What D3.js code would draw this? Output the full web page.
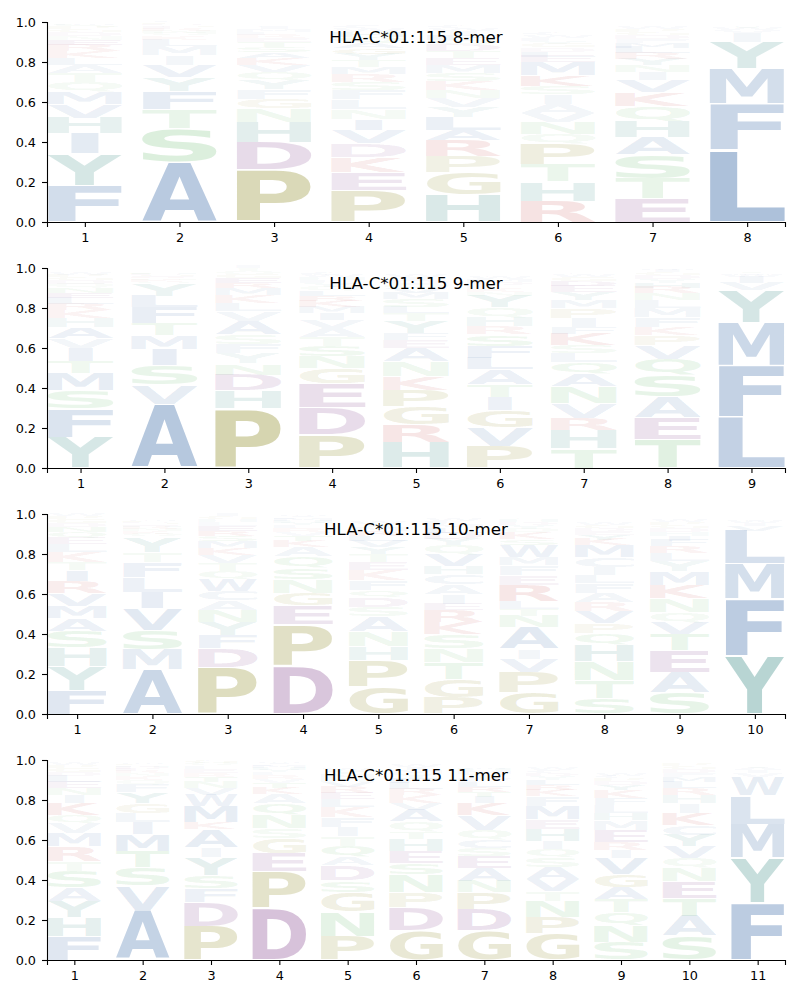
<!DOCTYPE html>
<html><head><meta charset="utf-8">
<script src="https://cdn.jsdelivr.net/npm/d3@7"></script>
<style>body{margin:0;background:#fff} svg{display:block} text{font-family:"DejaVu Sans",sans-serif}</style>
</head><body><svg id="c" width="800" height="1000"></svg>
<script>
// Each column: letters from bottom to top with their probability heights
const logo8 = [
  [["F",.184],["Y",.158],["I",.10],["H",.078],["V",.07],["M",.06],["Q",.05],["T",.045],["A",.04],["L",.035],["K",.035],["R",.03],["E",.025],["N",.02],["D",.018],["G",.015],["P",.012],["S",.01],["W",.008],["C",.006]],
  [["A",.30],["S",.17],["T",.095],["F",.09],["Y",.07],["V",.06],["I",.05],["M",.045],["L",.03],["K",.02],["Q",.015],["N",.012],["R",.01],["E",.01],["G",.008],["D",.007],["P",.006],["C",.005]],
  [["P",.26],["D",.14],["H",.10],["N",.066],["G",.05],["F",.048],["Y",.045],["Q",.04],["V",.035],["K",.035],["A",.03],["S",.025],["T",.025],["E",.02],["R",.018],["L",.015],["M",.012],["I",.01],["C",.008]],
  [["P",.16],["E",.09],["K",.075],["D",.068],["V",.068],["I",.055],["N",.05],["L",.05],["F",.045],["S",.04],["R",.04],["M",.035],["T",.035],["Y",.03],["G",.03],["A",.025],["Q",.03],["H",.025],["W",.02],["C",.015]],
  [["H",.138],["G",.11],["P",.08],["R",.078],["A",.055],["L",.065],["Y",.05],["V",.045],["N",.04],["K",.045],["S",.04],["M",.04],["E",.035],["T",.035],["D",.03],["Q",.025],["F",.025],["I",.02],["W",.015],["C",.01]],
  [["R",.105],["H",.096],["T",.088],["P",.10],["Q",.05],["N",.058],["V",.045],["A",.045],["I",.05],["S",.04],["K",.055],["M",.065],["E",.03],["L",.025],["D",.02],["G",.02],["Y",.015],["F",.015],["W",.012],["C",.01]],
  [["E",.118],["T",.10],["S",.12],["A",.086],["H",.08],["Q",.075],["K",.07],["V",.058],["I",.04],["N",.035],["Y",.03],["R",.03],["L",.03],["M",.025],["F",.02],["D",.02],["G",.015],["P",.015],["W",.01]],
  [["L",.36],["F",.229],["M",.177],["Y",.133],["I",.045],["V",.015],["W",.01],["T",.008],["A",.006]]
];
const logo9 = [
  [["Y",.153],["F",.145],["S",.09],["M",.088],["T",.058],["I",.066],["V",.05],["A",.055],["H",.045],["K",.04],["R",.03],["L",.03],["E",.025],["N",.025],["Q",.02],["D",.02],["G",.015],["P",.01],["W",.01]],
  [["A",.32],["V",.096],["S",.096],["I",.083],["M",.07],["T",.058],["F",.08],["L",.058],["Y",.06],["Q",.01],["K",.01],["N",.008],["R",.006],["E",.005],["G",.004],["D",.004],["H",.004],["P",.003]],
  [["P",.296],["H",.09],["D",.08],["N",.056],["Y",.05],["F",.046],["S",.05],["A",.065],["V",.05],["L",.04],["K",.04],["M",.035],["R",.025],["E",.025],["G",.02],["Q",.015],["T",.015],["I",.01]],
  [["P",.166],["D",.136],["E",.123],["G",.075],["N",.058],["S",.053],["T",.045],["A",.045],["V",.04],["I",.035],["M",.03],["K",.03],["R",.025],["L",.025],["Q",.02],["Y",.02],["F",.015],["H",.015],["W",.01],["C",.01]],
  [["H",.128],["R",.09],["G",.09],["P",.083],["K",.066],["N",.075],["A",.066],["E",.04],["F",.035],["Y",.06],["T",.04],["L",.03],["S",.04],["M",.03],["V",.025],["Q",.02],["D",.02],["I",.015],["W",.01]],
  [["P",.108],["V",.095],["G",.086],["I",.066],["T",.063],["A",.075],["L",.058],["F",.058],["S",.058],["R",.04],["H",.045],["Q",.05],["Y",.06],["N",.02],["K",.02],["E",.015],["D",.015],["M",.015],["W",.01],["C",.008]],
  [["T",.096],["H",.091],["R",.061],["V",.075],["N",.083],["A",.063],["Q",.058],["L",.046],["S",.04],["K",.058],["F",.033],["I",.045],["P",.05],["M",.04],["Y",.04],["E",.03],["D",.025],["G",.02],["W",.015],["C",.008]],
  [["T",.141],["E",.111],["A",.103],["S",.108],["Q",.083],["V",.066],["P",.05],["K",.04],["F",.05],["M",.045],["L",.04],["N",.035],["R",.03],["H",.025],["Y",.02],["D",.02],["G",.015],["I",.01],["W",.008]],
  [["L",.257],["F",.254],["M",.216],["Y",.161],["V",.038],["I",.03],["W",.01],["A",.008],["T",.006]]
];
const logo10 = [
  [["F",.12],["Y",.12],["H",.091],["S",.083],["A",.063],["M",.063],["V",.063],["R",.06],["I",.055],["T",.04],["K",.05],["L",.04],["E",.03],["Q",.03],["N",.025],["D",.02],["G",.02],["P",.015],["W",.01]],
  [["A",.224],["M",.10],["S",.096],["V",.108],["I",.083],["L",.075],["F",.075],["T",.05],["Y",.075],["Q",.015],["K",.012],["N",.01],["R",.01],["H",.008],["E",.008],["G",.006],["D",.006],["P",.005],["W",.005]],
  [["P",.232],["D",.095],["F",.066],["Y",.066],["N",.058],["A",.05],["C",.045],["W",.06],["Q",.04],["T",.04],["V",.04],["K",.035],["M",.035],["S",.03],["R",.025],["E",.025],["L",.02],["H",.015],["G",.015],["I",.01]],
  [["D",.24],["P",.207],["E",.096],["G",.063],["N",.066],["S",.058],["Q",.058],["A",.046],["K",.03],["T",.025],["V",.02],["R",.02],["L",.015],["Y",.012],["H",.01],["M",.01],["F",.008],["I",.006],["W",.005]],
  [["G",.136],["P",.133],["H",.07],["N",.075],["A",.075],["S",.046],["D",.05],["Q",.035],["F",.05],["K",.05],["E",.04],["T",.04],["Y",.035],["V",.03],["L",.025],["R",.025],["M",.02],["I",.015],["W",.01]],
  [["P",.083],["G",.091],["T",.083],["N",.07],["S",.07],["K",.06],["R",.06],["E",.03],["I",.05],["A",.05],["C",.05],["H",.04],["V",.058],["Q",.05],["Y",.03],["D",.03],["L",.025],["M",.02],["F",.015],["W",.01]],
  [["G",.108],["P",.10],["V",.066],["I",.05],["A",.108],["N",.058],["T",.035],["L",.04],["R",.08],["E",.05],["F",.05],["M",.04],["W",.06],["S",.03],["K",.03],["Q",.02],["Y",.02],["D",.015],["H",.015],["C",.008]],
  [["S",.08],["T",.088],["N",.095],["H",.083],["Q",.058],["P",.05],["V",.058],["R",.046],["A",.046],["F",.05],["L",.04],["I",.04],["C",.05],["M",.058],["K",.03],["Y",.025],["E",.02],["D",.015],["G",.015],["W",.01]],
  [["S",.108],["A",.10],["E",.108],["T",.083],["V",.058],["Q",.05],["N",.07],["K",.065],["M",.07],["Y",.05],["L",.04],["R",.035],["F",.03],["I",.025],["H",.02],["D",.02],["G",.015],["P",.015],["W",.01]],
  [["Y",.29],["F",.287],["M",.174],["L",.166],["V",.025],["I",.015],["W",.01],["A",.006]]
];
const logo11 = [
  [["F",.12],["H",.095],["Y",.08],["A",.066],["S",.083],["T",.05],["R",.075],["M",.066],["V",.05],["Q",.04],["K",.058],["I",.04],["N",.035],["E",.03],["L",.03],["D",.02],["G",.02],["P",.015],["W",.01]],
  [["A",.25],["V",.121],["S",.091],["T",.083],["M",.083],["I",.06],["L",.045],["G",.05],["Y",.055],["F",.04],["Q",.02],["K",.02],["N",.015],["R",.012],["E",.01],["D",.01],["H",.008],["P",.006],["W",.005]],
  [["P",.17],["D",.12],["F",.066],["S",.066],["Y",.09],["I",.05],["A",.09],["K",.035],["M",.08],["W",.058],["V",.035],["N",.03],["T",.025],["R",.02],["E",.02],["L",.015],["Q",.015],["G",.01]],
  [["D",.257],["P",.187],["E",.091],["G",.075],["S",.05],["N",.066],["Q",.058],["A",.046],["K",.03],["T",.025],["V",.02],["R",.02],["L",.015],["Y",.012],["H",.01],["M",.01],["F",.008],["I",.006],["W",.005]],
  [["P",.12],["N",.12],["G",.10],["S",.058],["D",.075],["A",.04],["Q",.058],["T",.05],["I",.045],["F",.05],["K",.05],["L",.04],["E",.03],["R",.03],["V",.025],["H",.02],["M",.02],["Y",.015],["W",.01]],
  [["G",.146],["D",.116],["P",.075],["N",.09],["S",.058],["E",.058],["H",.063],["T",.035],["Q",.05],["A",.06],["V",.035],["K",.04],["R",.03],["L",.03],["F",.025],["Y",.02],["M",.02],["I",.015],["W",.01]],
  [["G",.146],["D",.108],["P",.083],["N",.058],["A",.066],["E",.058],["S",.04],["C",.04],["Q",.05],["V",.075],["K",.058],["I",.03],["T",.03],["R",.025],["L",.025],["F",.02],["Y",.02],["M",.015],["H",.01],["W",.008]],
  [["G",.13],["P",.083],["N",.083],["T",.05],["V",.058],["A",.058],["S",.05],["Q",.04],["I",.04],["H",.06],["E",.05],["M",.066],["F",.05],["K",.03],["R",.025],["L",.025],["Y",.02],["D",.015],["C",.015],["W",.01]],
  [["S",.088],["N",.083],["Q",.066],["T",.066],["A",.058],["G",.066],["V",.083],["I",.04],["R",.04],["E",.058],["M",.05],["H",.035],["L",.04],["F",.035],["K",.04],["Y",.025],["D",.02],["P",.015],["C",.01],["W",.01]],
  [["S",.12],["A",.10],["T",.09],["E",.083],["N",.066],["Q",.05],["V",.058],["Y",.058],["C",.05],["K",.058],["I",.05],["H",.04],["R",.035],["L",.03],["M",.025],["F",.02],["D",.02],["G",.015],["P",.01]],
  [["F",.287],["Y",.224],["M",.167],["L",.144],["W",.091],["V",.02],["I",.015],["A",.01],["T",.006]]
];
const titles = ["HLA-C*01:115 8-mer","HLA-C*01:115 9-mer","HLA-C*01:115 10-mer","HLA-C*01:115 11-mer"];
const logos = [logo8, logo9, logo10, logo11];
const yTicks = [0, 0.2, 0.4, 0.6, 0.8, 1.0];

const groupColor = {
  blue: [70,115,172], teal: [60,140,134], olive: [143,140,40],
  purple: [131,69,141], red: [195,68,68], green: [100,184,105]
};
const letterGroup = {A:"blue",C:"blue",F:"blue",I:"blue",L:"blue",M:"blue",V:"blue",W:"blue",
  Y:"teal",H:"teal",P:"olive",G:"olive",D:"purple",E:"purple",K:"red",R:"red",
  S:"green",T:"green",N:"green",Q:"green"};

const svg = d3.select("#c");
const left = 47, right = 785, panelH = 200, tops = [22, 268, 514, 760];
const glyphW = 0.8, vpad = 0.04;

const ctx = document.createElement("canvas").getContext("2d");
ctx.font = 'bold 100px "DejaVu Sans"';
const inkCache = {};
function ink(c) {
  if (!inkCache[c]) {
    const m = ctx.measureText(c);
    inkCache[c] = {l: -m.actualBoundingBoxLeft, r: m.actualBoundingBoxRight,
                   t: -m.actualBoundingBoxAscent, b: m.actualBoundingBoxDescent};
  }
  return inkCache[c];
}
const refInk = ink("E");
const refW = refInk.r - refInk.l;

logos.forEach((logo, pi) => {
  const n = logo.length;
  const top = tops[pi];
  const x = d3.scaleLinear().domain([1 - glyphW / 2, n + glyphW / 2]).range([left, right]);
  const y = d3.scaleLinear().domain([0, 1]).range([top + panelH, top]);
  const g = svg.append("g");
  const marks = g.append("g");

  logo.forEach((col, ci) => {
    const pos = ci + 1;
    let cum = 0;
    col.forEach(([c, v]) => {
      const y0 = y(cum), y1 = y(cum + v);
      cum += v;
      const hpx = y0 - y1;
      const pad = hpx * vpad / 2;
      const sx0 = x(pos - glyphW / 2) + 0.5, sx1 = x(pos + glyphW / 2) - 0.5;
      const slotW = sx1 - sx0;
      const b = ink(c);
      const iw = b.r - b.l;
      // never stretch horizontally more than "E" would be
      const sx = Math.min(slotW / iw, slotW / refW);
      const gw = iw * sx;
      const gx0 = sx0 + (slotW - gw) / 2;
      const gy0 = y1 + pad, gy1 = y0 - pad;
      const sy = (gy1 - gy0) / (b.b - b.t);
      const rgb = groupColor[letterGroup[c]];
      const alpha = Math.min(1, 0.03 + 1.15 * v);
      marks.append("text")
        .attr("transform", `translate(${gx0},${gy0}) scale(${sx},${sy}) translate(${-b.l},${-b.t})`)
        .style("font-size", "100px").style("font-weight", "bold")
        .attr("fill", `rgb(${rgb[0]},${rgb[1]},${rgb[2]})`)
        .attr("fill-opacity", alpha)
        .text(c);
    });
  });

  const ax = g.append("g").attr("transform", `translate(0,${top + panelH})`)
    .call(d3.axisBottom(x).tickValues(d3.range(1, n + 1)).tickFormat(d3.format("d")).tickSizeOuter(0).tickSize(5).tickPadding(5.5));
  const ay = g.append("g").attr("transform", `translate(${left},0)`)
    .call(d3.axisLeft(y).tickValues(yTicks).tickFormat(d3.format(".1f")).tickSizeOuter(0).tickSize(5).tickPadding(6));
  [ax, ay].forEach(a => {
    a.selectAll("text").style("font-size", "12.8px").attr("fill", "#000").style("font-family", '"DejaVu Sans", sans-serif');
    a.selectAll("line").attr("stroke", "#000").attr("stroke-width", 1.1);
    a.select(".domain").attr("stroke", "#000").attr("stroke-width", 1.1);
  });

  g.append("text").attr("x", (left + right) / 2).attr("y", top + 20.5)
    .attr("text-anchor", "middle").style("font-size", "16.7px").attr("fill", "#000")
    .text(titles[pi]);
});
</script></body></html>
